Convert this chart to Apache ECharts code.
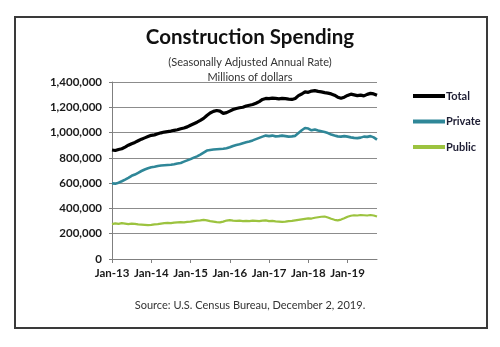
<!DOCTYPE html>
<html>
<head>
<meta charset="utf-8">
<script src="https://cdn.jsdelivr.net/npm/echarts@6/dist/echarts.min.js"></script>
<style>
html,body{margin:0;padding:0;background:#fff;}
#c{width:500px;height:347px;}
</style>
</head>
<body>
<div id="c"></div>
<script>
// Month categories Jan-13 .. Oct-19
const monthNames = ['Jan','Feb','Mar','Apr','May','Jun','Jul','Aug','Sep','Oct','Nov','Dec'];
const years = ['13','14','15','16','17','18','19'];
const categories = [];
years.forEach(function (y) {
  monthNames.forEach(function (m) {
    categories.push(m + '-' + y);
  });
});
categories.length = 82;

const yTicks = [0, 200000, 400000, 600000, 800000, 1000000, 1200000, 1400000];

// Values in thousands of millions of dollars
const totalK = [
  862, 858, 866, 872, 885, 900, 912, 922, 935, 948, 958, 968,
  978, 982, 990, 998, 1004, 1008, 1012, 1018, 1022, 1030, 1036, 1045,
  1058, 1070, 1082, 1096, 1112, 1135, 1155, 1168, 1175, 1170, 1152, 1158,
  1170, 1182, 1190, 1196, 1200, 1210, 1216, 1222, 1232, 1245, 1262, 1270,
  1268, 1272, 1270, 1266, 1270, 1268, 1264, 1262, 1270, 1292, 1305, 1322,
  1318, 1328, 1332, 1326, 1322, 1316, 1312, 1306, 1296, 1280, 1272, 1280,
  1294, 1304, 1298, 1292, 1296, 1290, 1302, 1310, 1306, 1296
];
const privateK = [
  598, 596, 604, 615, 628, 642, 658, 668, 682, 696, 708, 718,
  726, 730, 736, 740, 742, 744, 746, 750, 756, 760, 770, 780,
  790, 802, 812, 826, 842, 858, 862, 866, 868, 870, 872, 876,
  884, 894, 902, 908, 916, 924, 930, 938, 948, 958, 968, 976,
  972, 976, 970, 972, 976, 972, 968, 970, 974, 996, 1018, 1036,
  1032, 1018, 1024, 1016, 1010, 1004, 996, 984, 976, 970, 968, 972,
  968, 962, 958, 956, 960, 968, 966, 972, 962, 944
];
const publicK = [
  276, 282, 278, 284, 280, 276, 280, 278, 274, 272, 270, 268,
  270, 274, 276, 280, 284, 286, 284, 288, 290, 292, 290, 294,
  296, 300, 304, 306, 310, 306, 300, 296, 292, 290, 296, 304,
  308, 304, 302, 304, 300, 302, 300, 304, 302, 300, 304, 306,
  300, 302, 298, 296, 294, 296, 300, 302, 306, 310, 314, 318,
  322, 320, 326, 330, 334, 336, 328, 318, 310, 306, 312, 322,
  334, 342, 346, 344, 348, 346, 344, 348, 344, 336
];
const seriesNames = ['Total', 'Private', 'Public'];
const seriesColors = ['#000000', '#2f8798', '#9cc33f'];
const seriesWidths = [3.2, 2.6, 2.2];

const toMillions = function (arr) { return arr.map(function (v) { return v * 1000; }); };
const seriesData = [toMillions(totalK), toMillions(privateK), toMillions(publicK)];

const fmt = function (v) { return String(v).replace(/\B(?=(\d{3})+(?!\d))/g, ','); };

const chart = echarts.init(document.getElementById('c'), null, {renderer: 'canvas'});
chart.setOption({
  animation: false,
  backgroundColor: '#ffffff',
  textStyle: {fontFamily: 'Lato'},
  title: [
    {text: 'Construction Spending', left: 'center', top: 22,
     textStyle: {fontFamily: 'Lato', fontWeight: 'bold', fontSize: 20.5, color: '#111'}},
    {text: '(Seasonally Adjusted Annual Rate)', left: 'center', top: 52,
     textStyle: {fontFamily: 'Lato', fontWeight: 'normal', fontSize: 11, color: '#333'}},
    {text: 'Millions of dollars', left: 'center', top: 67,
     textStyle: {fontFamily: 'Lato', fontWeight: 'normal', fontSize: 11, color: '#333'}},
    {text: 'Source: U.S. Census Bureau, December 2, 2019.', left: 'center', top: 295,
     textStyle: {fontFamily: 'Lato', fontWeight: 'normal', fontSize: 11, color: '#333'}}
  ],
  graphic: [
    {type: 'rect', shape: {x: 15, y: 17, width: 472, height: 311},
     style: {fill: 'none', stroke: '#3a3a3a', lineWidth: 2}, z: 100}
  ],
  legend: {
    orient: 'vertical',
    left: 408,
    top: 84,
    itemWidth: 32,
    itemHeight: 4,
    itemGap: 11.5,
    icon: 'rect',
    data: seriesNames,
    textStyle: {fontFamily: 'Lato', fontWeight: 'bold', fontSize: 11, color: '#1d1d33', lineHeight: 14, padding: [0, 0, 0, -4]}
  },
  grid: {left: 112, top: 82, right: 123, bottom: 88, containLabel: false},
  xAxis: {
    type: 'category',
    data: categories,
    boundaryGap: false,
    axisLine: {lineStyle: {color: '#7f7f7f', width: 1}},
    axisTick: {show: true, interval: 11, length: 4, lineStyle: {color: '#7f7f7f'}},
    axisLabel: {interval: 11, margin: 8, fontFamily: 'Lato', fontWeight: 'bold', fontSize: 11.5, color: '#1a1a1a'},
    splitLine: {show: false}
  },
  yAxis: {
    type: 'value',
    min: yTicks[0],
    max: yTicks[yTicks.length - 1],
    interval: yTicks[1] - yTicks[0],
    axisLine: {show: true, lineStyle: {color: '#7f7f7f', width: 1}},
    axisTick: {show: true, length: 3, lineStyle: {color: '#7f7f7f'}},
    axisLabel: {formatter: fmt, margin: 10, fontFamily: 'Lato', fontWeight: 'bold', fontSize: 11.5, color: '#1a1a1a'},
    splitLine: {show: true, lineStyle: {color: '#8c8c8c', width: 1}}
  },
  series: seriesNames.map(function (name, i) {
    return {
      name: name,
      type: 'line',
      data: seriesData[i],
      showSymbol: false,
      symbol: 'none',
      color: seriesColors[i],
      lineStyle: {color: seriesColors[i], width: seriesWidths[i]},
      itemStyle: {color: seriesColors[i]},
      z: 3 - i
    };
  })
});
</script>
</body>
</html>
